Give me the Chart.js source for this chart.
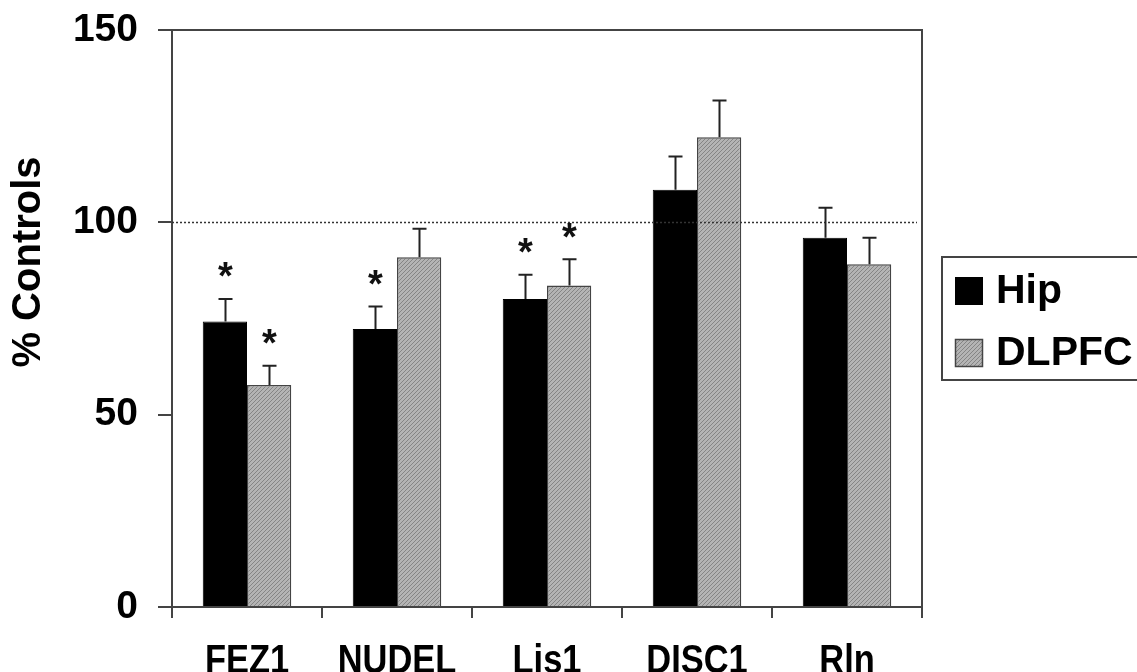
<!DOCTYPE html>
<html>
<head>
<meta charset="utf-8">
<script src="https://cdn.jsdelivr.net/npm/chart.js@4/dist/chart.umd.min.js"></script>
<style>
  html, body { margin: 0; padding: 0; background: #fff; }
  canvas { display: block; }
</style>
</head>
<body>
<canvas id="c" width="1137" height="672"></canvas>
<script>
const categories = ['FEZ1', 'NUDEL', 'Lis1', 'DISC1', 'Rln'];
const hipValues = [74.2, 72.3, 80.1, 108.5, 96.0];
const hipErrors = [5.9, 5.8, 6.3, 8.6, 7.8];
const dlpfcValues = [57.7, 90.9, 83.6, 122.1, 89.1];
const dlpfcErrors = [5.0, 7.4, 6.8, 9.6, 6.9];
const hipSignificant = [true, true, true, false, false];
const dlpfcSignificant = [true, false, true, false, false];
const seriesNames = ['Hip', 'DLPFC'];
const yTicks = [0, 50, 100, 150];
const yTitle = '% Controls';
const referenceValue = 100;

function makeHatch() {
  const p = document.createElement('canvas');
  p.width = 4; p.height = 4;
  const g = p.getContext('2d');
  g.fillStyle = '#b4b4b4';
  g.fillRect(0, 0, 4, 4);
  g.fillStyle = '#858585';
  for (let i = 0; i < 4; i++) g.fillRect(i, 3 - i, 1, 1);
  return document.getElementById('c').getContext('2d').createPattern(p, 'repeat');
}
const hatch = makeHatch();

const FONT = '"Liberation Sans", Arial, sans-serif';

const extras = {
  id: 'extras',
  afterDatasetsDraw(chart) {
    const ctx = chart.ctx;
    const ys = chart.scales.y;
    const area = chart.chartArea;
    ctx.save();
    ctx.strokeStyle = '#333';
    ctx.lineWidth = 1.5;
    ctx.setLineDash([2, 2]);
    const ry = Math.round(ys.getPixelForValue(referenceValue)) + 0.5;
    ctx.beginPath();
    ctx.moveTo(area.left, ry);
    ctx.lineTo(area.right - 5, ry);
    ctx.stroke();
    ctx.restore();
    const errs = [hipErrors, dlpfcErrors];
    const vals = [hipValues, dlpfcValues];
    const sig = [hipSignificant, dlpfcSignificant];
    ctx.save();
    ctx.strokeStyle = '#222';
    ctx.lineWidth = 2;
    for (let d = 0; d < 2; d++) {
      const meta = chart.getDatasetMeta(d);
      meta.data.forEach((bar, i) => {
        const x = Math.round(bar.x) + 0.5;
        const top = ys.getPixelForValue(vals[d][i] + errs[d][i]);
        ctx.beginPath();
        ctx.moveTo(x, bar.y);
        ctx.lineTo(x, top);
        ctx.moveTo(x - 7, top);
        ctx.lineTo(x + 7, top);
        ctx.stroke();
        if (sig[d][i]) {
          ctx.fillStyle = '#111';
          ctx.font = 'bold 38px ' + FONT;
          ctx.textAlign = 'center';
          ctx.textBaseline = 'middle';
          ctx.fillText('*', x, top - 20);
        }
      });
    }
    ctx.restore();
  },
  afterDraw(chart) {
    const ctx = chart.ctx;
    const area = chart.chartArea;
    const xs = chart.scales.x;
    ctx.save();
    ctx.strokeStyle = '#444';
    ctx.lineWidth = 2;
    ctx.beginPath();
    ctx.moveTo(area.left, area.top);
    ctx.lineTo(area.right, area.top);
    ctx.lineTo(area.right, area.bottom);
    ctx.stroke();
    // x category labels (condensed bold)
    ctx.fillStyle = '#000';
    ctx.font = 'bold 41px ' + FONT;
    ctx.textAlign = 'center';
    ctx.textBaseline = 'alphabetic';
    categories.forEach((c, i) => {
      const x = xs.getPixelForTick(i);
      ctx.save();
      ctx.translate(x, xs.top + 66);
      ctx.scale(0.84, 1);
      ctx.fillText(c, 0, 0);
      ctx.restore();
    });
    // y title
    ctx.save();
    ctx.translate(29, 262);
    ctx.rotate(-Math.PI / 2);
    ctx.font = 'bold 40px ' + FONT;
    ctx.textAlign = 'center';
    ctx.textBaseline = 'middle';
    ctx.fillText(yTitle, 0, 0);
    ctx.restore();
    // legend
    const lx = 942, ly = 257;
    ctx.strokeRect(lx, ly, 260, 123);
    ctx.fillStyle = '#000';
    ctx.fillRect(955, 277, 28, 28);
    ctx.fillStyle = hatch;
    ctx.fillRect(955, 339, 28, 28);
    ctx.strokeStyle = '#444';
    ctx.lineWidth = 1.5;
    ctx.strokeRect(955.5, 339.5, 27, 27);
    ctx.fillStyle = '#000';
    ctx.font = 'bold 41px ' + FONT;
    ctx.textAlign = 'left';
    ctx.textBaseline = 'middle';
    ctx.fillText(seriesNames[0], 996, 292);
    ctx.fillText(seriesNames[1], 996, 354);
    ctx.restore();
  }
};

new Chart(document.getElementById('c'), {
  type: 'bar',
  data: {
    labels: categories,
    datasets: [
      { label: seriesNames[0], data: hipValues, backgroundColor: '#000', borderColor: '#000', borderWidth: 1 },
      { label: seriesNames[1], data: dlpfcValues, backgroundColor: hatch, borderColor: '#444', borderWidth: 1.5 }
    ]
  },
  options: {
    responsive: false,
    animation: false,
    events: [],
    layout: { padding: { top: 30, right: 215, left: 0, bottom: 0 } },
    datasets: { bar: { categoryPercentage: 0.59, barPercentage: 1.0 } },
    plugins: { legend: { display: false }, tooltip: { enabled: false } },
    scales: {
      x: {
        grid: { offset: true, drawOnChartArea: false, drawTicks: true, tickLength: 11, color: '#444', lineWidth: 2 },
        border: { display: true, color: '#444', width: 2 },
        ticks: { display: false },
        afterFit(s) { s.height = 65; }
      },
      y: {
        min: 0, max: 150,
        afterBuildTicks(s) { s.ticks = yTicks.map(v => ({ value: v })); },
        grid: { drawOnChartArea: false, drawTicks: true, tickLength: 14, color: '#444', lineWidth: 2 },
        border: { display: true, color: '#444', width: 2 },
        ticks: { color: '#000', font: { family: FONT, size: 39, weight: 'bold' }, padding: 20 },
        title: { display: false, text: yTitle },
        afterFit(s) { s.width = 172; s.paddingTop = 0; s.paddingBottom = 0; }
      }
    }
  },
  plugins: [extras]
});
</script>
</body>
</html>
